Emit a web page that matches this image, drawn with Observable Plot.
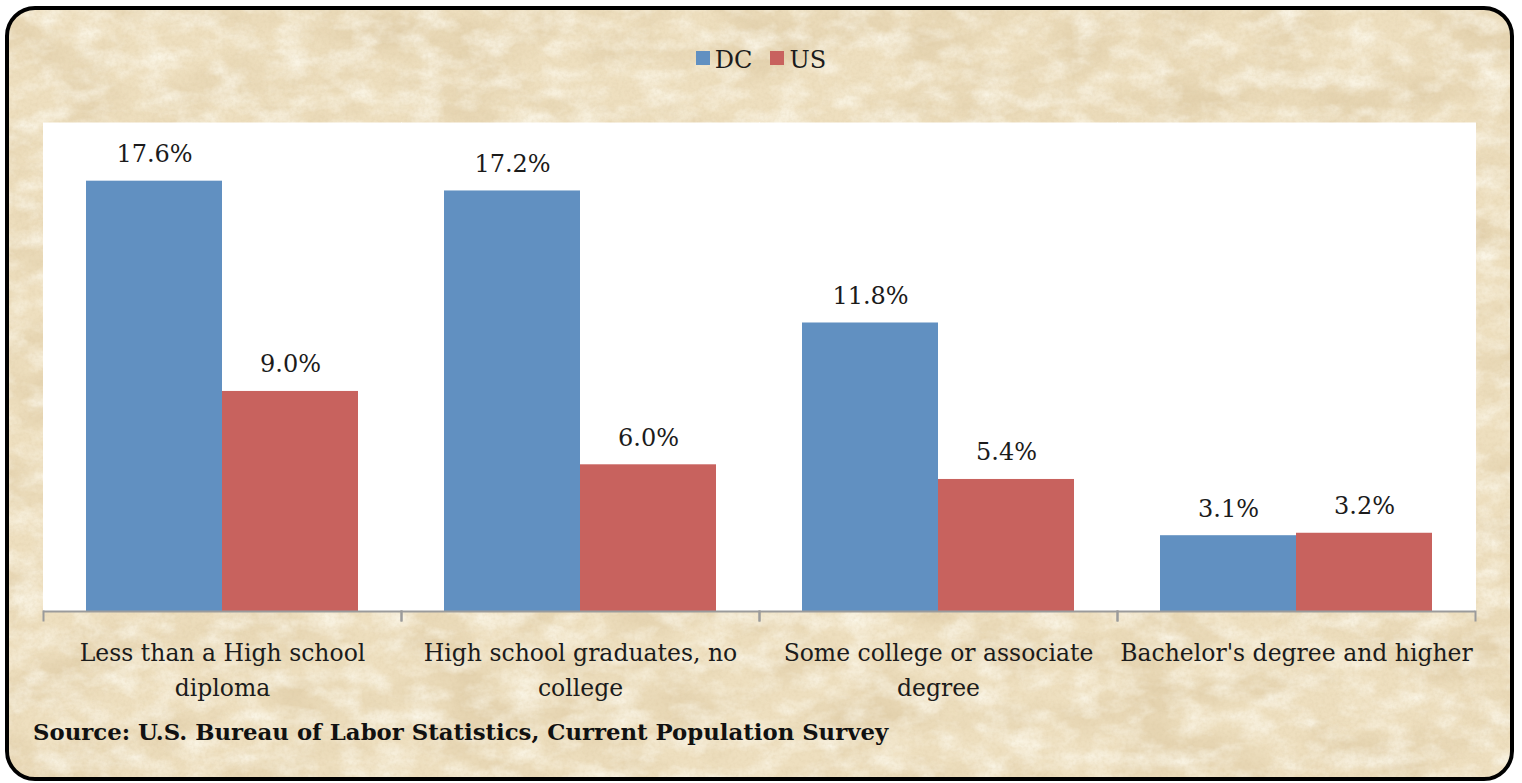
<!DOCTYPE html>
<html>
<head>
<meta charset="utf-8">
<script src="https://cdn.jsdelivr.net/npm/d3@7"></script>
<script src="https://cdn.jsdelivr.net/npm/@observablehq/plot@0.6"></script>
<style>
  html, body { margin: 0; padding: 0; background: #ffffff; }
  #card { position: absolute; left: 0; top: 0; width: 1522px; height: 783px; overflow: hidden; }
  #paper {
    position: absolute; left: 5px; top: 6px; width: 1509px; height: 775px;
    box-sizing: border-box; border: 4px solid #000; border-radius: 30px;
    background-color: #ecdcb9; overflow: hidden;
  }
  #chart { position: absolute; left: 0; top: 0; }
  #legend {
    position: absolute; left: 0; top: 46px; width: 1522px;
    display: flex; justify-content: center; align-items: center; gap: 18px;
    font-family: "DejaVu Serif", serif; font-size: 24px; color: #1b1b1b;
  }
  #legend .item { display: flex; align-items: center; gap: 5px; }
  #legend .swatch { width: 14px; height: 14px; display: inline-block; position: relative; top: -2px; }
  #source {
    position: absolute; left: 33px; top: 719px;
    font-family: "DejaVu Serif", serif; font-weight: bold; font-size: 22.8px; color: #111;
  }
</style>
</head>
<body>
<div id="card">
  <div id="paper"></div>
  <div id="chart"></div>
  <div id="legend"></div>
  <div id="source">Source: U.S. Bureau of Labor Statistics, Current Population Survey</div>
</div>
<script>
// Unemployment rate by educational attainment, DC vs. US
const categories = [
  "Less than a High school diploma",
  "High school graduates, no college",
  "Some college or associate degree",
  "Bachelor's degree and higher"
];
const axisLabels = [
  "Less than a High school\ndiploma",
  "High school graduates, no\ncollege",
  "Some college or associate\ndegree",
  "Bachelor's degree and higher"
];
const series = ["DC", "US"];
const dcValues = [17.6, 17.2, 11.8, 3.1];
const usValues = [9.0, 6.0, 5.4, 3.2];
const seriesColors = ["#6190c1", "#c8625e"];

const FONT = "DejaVu Serif, serif";

// Long-format table for the grouped bars
const rows = [];
categories.forEach((c, i) => {
  rows.push({category: c, series: "DC", value: dcValues[i]});
  rows.push({category: c, series: "US", value: usValues[i]});
});

// Parchment texture for the card background
(function paintPaper() {
  const w = 1509, h = 775;
  const svg = `<svg xmlns='http://www.w3.org/2000/svg' width='${w}' height='${h}'>
    <filter id='dark' x='0' y='0' width='100%' height='100%'>
      <feTurbulence type='fractalNoise' baseFrequency='0.010 0.018' numOctaves='5' seed='7'/>
      <feColorMatrix values='0 0 0 0 0.70  0 0 0 0 0.56  0 0 0 0 0.34  0 0 0 -1.3 0.78'/>
    </filter>
    <filter id='light' x='0' y='0' width='100%' height='100%'>
      <feTurbulence type='fractalNoise' baseFrequency='0.03 0.05' numOctaves='4' seed='2'/>
      <feColorMatrix values='0 0 0 0 0.98  0 0 0 0 0.95  0 0 0 0 0.85  0 0 0 1.6 -0.62'/>
    </filter>
    <filter id='grain' x='0' y='0' width='100%' height='100%'>
      <feTurbulence type='fractalNoise' baseFrequency='0.3' numOctaves='2' seed='11'/>
      <feColorMatrix values='0 0 0 0 0.66  0 0 0 0 0.54  0 0 0 0 0.34  0 0 0 0.9 -0.38'/>
    </filter>
    <rect width='100%' height='100%' fill='#eedfbf'/>
    <rect width='100%' height='100%' filter='url(#dark)'/>
    <rect width='100%' height='100%' filter='url(#light)'/>
    <rect width='100%' height='100%' filter='url(#grain)' opacity='0.45'/>
  </svg>`;
  document.getElementById("paper").style.backgroundImage =
    `url("data:image/svg+xml,${encodeURIComponent(svg)}")`;
})();

const chart = Plot.plot({
  width: 1522,
  height: 783,
  marginLeft: 42,
  marginRight: 47,
  marginTop: 122,
  marginBottom: 172,
  style: {background: "transparent", fontFamily: FONT, fontSize: "23.5px", color: "#1b1b1b", overflow: "visible"},
  fx: {domain: categories, paddingInner: 0, paddingOuter: 0, axis: null},
  x: {domain: series, paddingInner: 0, paddingOuter: 0.312, axis: null},
  y: {domain: [0, 20], axis: null},
  color: {domain: series, range: seriesColors},
  marks: [
    Plot.frame({fill: "white", stroke: null, insetLeft: -0.5, insetRight: -0.5}),
    Plot.barY(rows, {fx: "category", x: "series", y: "value", fill: "series"}),
    Plot.ruleY([0], {stroke: "#9b9b9b", strokeWidth: 2}),
    Plot.frame({anchor: "left", stroke: "#9b9b9b", strokeWidth: 2, insetTop: 489, insetBottom: -9}),
    Plot.frame({anchor: "right", stroke: "#9b9b9b", strokeWidth: 2, insetTop: 489, insetBottom: -9}),
    Plot.text(rows, {
      fx: "category", x: "series", y: "value",
      text: d => d.value.toFixed(1) + "%",
      lineAnchor: "bottom", dy: -19, fontSize: 24, fill: "#1b1b1b"
    }),
    Plot.axisFx({
      anchor: "bottom", tickSize: 0, tickPadding: 25, label: null,
      tickFormat: c => axisLabels[categories.indexOf(c)],
      fontSize: 23.5, lineHeight: 1.49, fill: "#1b1b1b"
    })
  ]
});
document.getElementById("chart").appendChild(chart);

// Legend
const legend = document.getElementById("legend");
series.forEach((s, i) => {
  const item = document.createElement("span");
  item.className = "item";
  const sw = document.createElement("span");
  sw.className = "swatch";
  sw.style.background = seriesColors[i];
  const label = document.createElement("span");
  label.textContent = s;
  item.appendChild(sw);
  item.appendChild(label);
  legend.appendChild(item);
});
</script>
</body>
</html>
